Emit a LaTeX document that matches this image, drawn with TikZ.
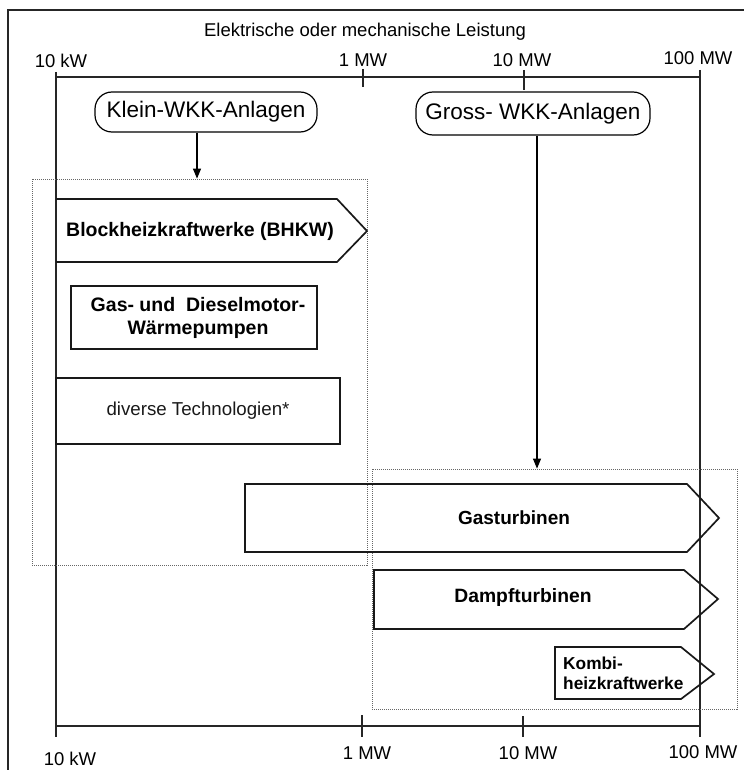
\documentclass[tikz,border=0pt]{standalone}
\usepackage{fontspec}
\setmainfont{Liberation Sans}
\usetikzlibrary{arrows.meta}
\begin{document}
\begin{tikzpicture}[x=1pt,y=-1pt,
  frameline/.style={line width=1.5pt,black!85},
  axisline/.style={line width=1.3pt,black!85},
  boxline/.style={line width=1.7pt,black!90},
  dotbox/.style={draw=black!60,line width=0.8pt,dash pattern=on 1pt off 1pt,minimum width=#1},
  lbl/.style={font=\fontsize{18.5}{22}\selectfont,inner sep=0pt,anchor=base},
  bold/.style={font=\fontsize{19.5}{23}\selectfont\bfseries,inner sep=0pt,align=center},
  pill/.style={draw,line width=1.2pt,rounded corners=17pt,font=\fontsize{22.5}{26}\selectfont,inner sep=0pt},
  conn/.style={line width=1.1pt,-{Triangle[length=10pt,width=8pt]}}
]
\useasboundingbox (0,0) rectangle (744,770);
% outer frame
\draw[frameline] (8,770) -- (8,10) -- (744,10);
% title
\node[lbl] (title) at (365,37) {Elektrische oder mechanische Leistung};
% axis labels
\node[lbl] (t10kw) at (61,68) {10 kW};
\node[lbl] (t1mw) at (363,67) {1 MW};
\node[lbl] (t10mw) at (522,67) {10 MW};
\node[lbl] (t100mw) at (698,65) {100 MW};
\node[lbl] (b10kw) at (70,765) {10 kW};
\node[lbl] (b1mw) at (367,759) {1 MW};
\node[lbl] (b10mw) at (528,759) {10 MW};
\node[lbl] (b100mw) at (703,758) {100 MW};
% axes
\draw[axisline] (56,77) -- (700,77);
\draw[axisline] (56,726) -- (700,726);
\draw[axisline] (56,72) -- (56,737);
\draw[axisline] (700,70) -- (700,737);
\draw[axisline] (363,69) -- (363,87);
\draw[axisline] (524,70) -- (524,90);
\draw[axisline] (362,715) -- (362,737);
\draw[axisline] (523,716) -- (523,737);
% dotted group boxes
\node[dotbox=335pt,minimum height=386pt,inner sep=0pt] (lbox) at (199.5,372) {};
\node[dotbox=365pt,minimum height=240pt,inner sep=0pt] (rbox) at (554.5,589) {};
% group labels
\node[pill,minimum width=222pt,minimum height=40pt] (klein) at (206,112) {Klein-WKK-Anlagen};
\node[pill,minimum width=234pt,minimum height=43pt] (gross) at (533,113.5) {Gross- WKK-Anlagen};
\draw[conn] ([xshift=-9pt]klein.south) -- ([xshift=-9pt]klein.south |- lbox.north);
\draw[conn] ([xshift=4pt]gross.south) -- ([xshift=4pt]gross.south |- rbox.north);
% BHKW
\draw[boxline,line join=miter] (56,199) -- (337,199) -- (367,231) -- (337,262) -- (56,262);
\node[bold] (bhkw) at (200,231) {Blockheizkraftwerke (BHKW)};
% Gas- und Dieselmotor
\node[draw,boxline,minimum width=246pt,minimum height=63pt,inner sep=0pt] (gdbox) at (194,317.5) {};
\node[bold] (gd) at (198,318) {Gas- und\ \ Dieselmotor-\\Wärmepumpen};
% diverse
\node[draw,boxline,minimum width=284pt,minimum height=66pt,inner sep=0pt,font=\fontsize{18.7}{22}\selectfont] (div) at (198,411) {diverse Technologien*};
% Gasturbinen
\draw[boxline] (245,484) -- (687,484) -- (719,518) -- (687,552) -- (245,552) -- cycle;
\node[bold,font=\fontsize{19}{23}\selectfont\bfseries] (gas) at (514,518) {Gasturbinen};
% Dampfturbinen
\draw[boxline] (374,570) -- (684,570) -- (718,599) -- (684,629) -- (374,629) -- cycle;
\node[bold,font=\fontsize{19.3}{23}\selectfont\bfseries] (damp) at (523,598) {Dampfturbinen};
% Kombi
\draw[boxline] (555,647) -- (681,647) -- (714,674) -- (681,699) -- (555,699) -- cycle;
\node[bold,font=\fontsize{17.3}{20}\selectfont\bfseries,align=left,anchor=west] (kombi) at (563,673) {Kombi-\\heizkraftwerke};
\end{tikzpicture}
\end{document}
